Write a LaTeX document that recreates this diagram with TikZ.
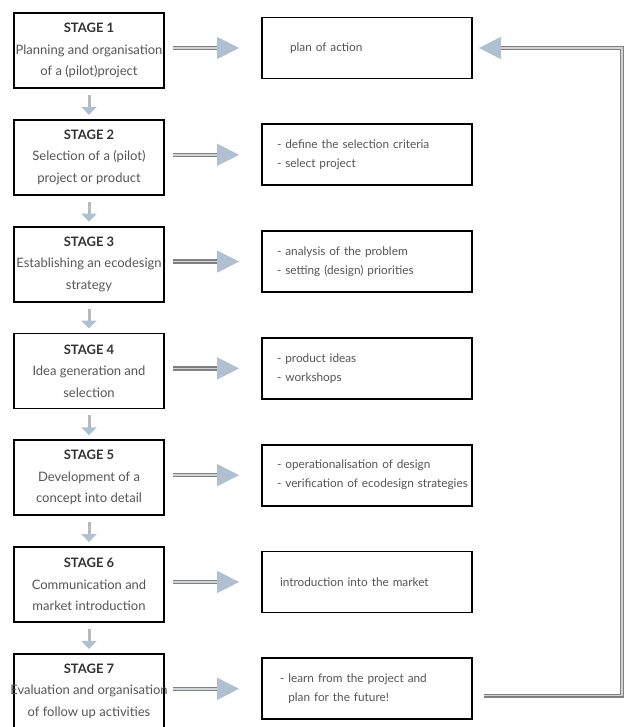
\documentclass[tikz,border=0pt]{standalone}
\usepackage{fontspec}
\setmainfont{Lato}
\usepackage{tikz}
\usetikzlibrary{arrows.meta,positioning}
\usepackage{xcolor}
\definecolor{shaftgray}{RGB}{128,128,128}
\definecolor{shaftlight}{RGB}{208,211,215}
\definecolor{headblue}{RGB}{176,192,208}
\definecolor{titlegray}{RGB}{50,50,50}
\definecolor{bodygray}{RGB}{85,85,85}

\begin{document}
\begin{tikzpicture}[
    x=1pt, y=-1pt,
    mystage/.style={
    rectangle,
    draw=black,
    line width=1.8pt,
    minimum width=150pt,
    minimum height=75pt,
    inner sep=0pt,
    align=center,
    text=bodygray,
    font=\fontsize{13}{21.5}\selectfont},
    myresult/.style={
    rectangle,
    draw=black,
    line width=1.8pt,
    minimum height=61pt,
    text width=180pt,
    inner xsep=15pt,
    inner ysep=0pt,
    align=left,
    text=bodygray,
    font=\fontsize{11.8}{19}\selectfont},
    myarrow/.style={draw=shaftgray, double=shaftlight, double distance=1.6pt,
    line width=1.4pt, shorten <=8pt, shorten >=22pt,
    -{Triangle[length=22pt,width=22pt,color=headblue]}},
    mystep/.style={draw=gray!55, line width=3pt, shorten <=6pt, shorten >=4pt,
    -{Triangle[length=8pt,width=15pt,color=headblue]}},
    myloop/.style={draw=shaftgray, double=shaftlight, double distance=1.2pt,
    line width=1.2pt, shorten <=11pt, shorten >=6pt,
    -{Triangle[length=22pt,width=22pt,color=headblue]}},
    node distance=30pt and 96.2pt
    ]
    \useasboundingbox (0,0) rectangle (632,727);

    \node[mystage] (s1) at (89,50.5) {\textcolor{titlegray}{\textbf{STAGE 1}}\\ Planning and organisation\\ of a (pilot)project};
    \node[mystage, below= of s1] (s2) {\textcolor{titlegray}{\textbf{STAGE 2}}\\ Selection of a (pilot)\\ project or product};
    \node[mystage, below= of s2] (s3) {\textcolor{titlegray}{\textbf{STAGE 3}}\\ Establishing an ecodesign\\ strategy};
    \node[mystage, below= of s3] (s4) {\textcolor{titlegray}{\textbf{STAGE 4}}\\ Idea generation and\\ selection};
    \node[mystage, below= of s4] (s5) {\textcolor{titlegray}{\textbf{STAGE 5}}\\ Development of a\\ concept into detail};
    \node[mystage, below= of s5] (s6) {\textcolor{titlegray}{\textbf{STAGE 6}}\\ Communication and\\ market introduction};
    \node[mystage, below= of s6] (s7) {\textcolor{titlegray}{\textbf{STAGE 7}}\\ \makebox[146pt]{Evaluation and organisation}\\ of follow up activities};

    \node[myresult, right= of s1, yshift=2.5pt] (r1) {\hspace*{13pt}plan of action};
    \node[myresult, right= of s2, yshift=2.5pt] (r2) {- define the selection criteria\\ - select project};
    \node[myresult, right= of s3, yshift=2.5pt] (r3) {- analysis of the problem\\ - setting (design) priorities};
    \node[myresult, right= of s4, yshift=2.5pt] (r4) {- product ideas\\ - workshops};
    \node[myresult, right= of s5, yshift=2.5pt] (r5) {- operationalisation of design\\ \mbox{- verification of ecodesign strategies}};
    \node[myresult, right= of s6, yshift=2.5pt] (r6) {\hspace*{3pt}introduction into the market};
    \node[myresult, right= of s7, yshift=2.5pt] (r7) {\hspace*{3pt}- learn from the project and\\ \hspace*{3pt}\phantom{- }plan for the future!};

    \draw[myarrow] (s1.east |- r1.west) -- (r1.west);
    \draw[myarrow] (s2.east |- r2.west) -- (r2.west);
    \draw[myarrow] (s3.east |- r3.west) -- (r3.west);
    \draw[myarrow] (s4.east |- r4.west) -- (r4.west);
    \draw[myarrow] (s5.east |- r5.west) -- (r5.west);
    \draw[myarrow] (s6.east |- r6.west) -- (r6.west);
    \draw[myarrow] (s7.east |- r7.west) -- (r7.west);

    \draw[mystep] (s1) -- (s2);
    \draw[mystep] (s2) -- (s3);
    \draw[mystep] (s3) -- (s4);
    \draw[mystep] (s4) -- (s5);
    \draw[mystep] (s5) -- (s6);
    \draw[mystep] (s6) -- (s7);

    \coordinate (loopx) at (622,0);
    \draw[myloop] ([yshift=-7pt]r7.east) -- ([yshift=-7pt]r7.east -| loopx) -- (r1.east -| loopx) -- (r1.east);
\end{tikzpicture}
\end{document}
